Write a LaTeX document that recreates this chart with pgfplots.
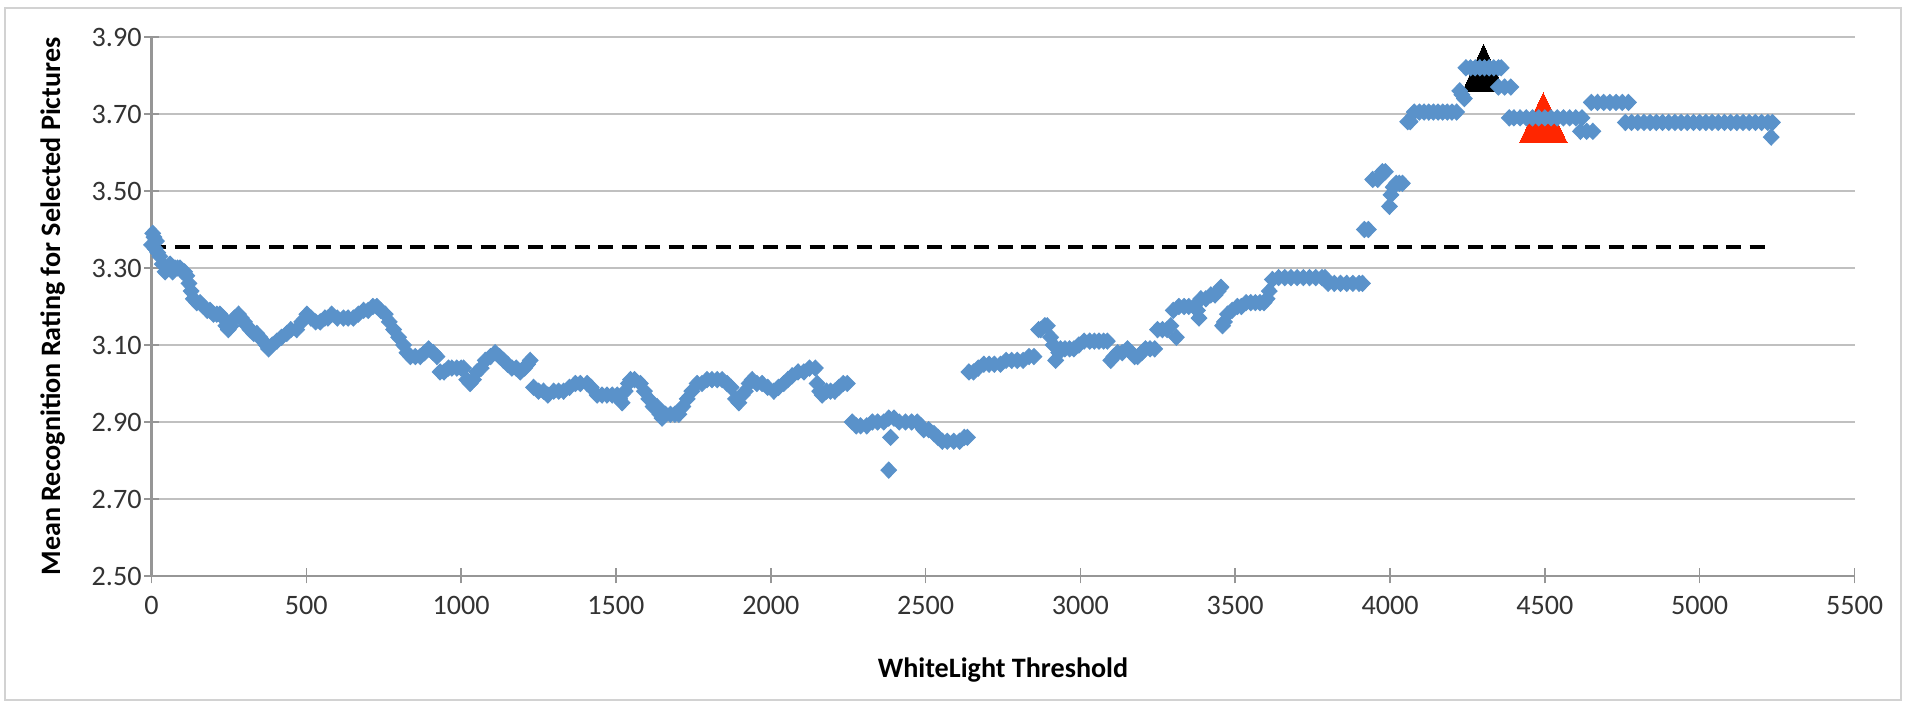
\documentclass[border=0pt]{standalone}
\usepackage{fontspec}
\setmainfont{Carlito}
\usepackage{pgfplots}
\pgfplotsset{compat=1.18}
\definecolor{ptblue}{RGB}{90,146,202}
\definecolor{gridgray}{RGB}{192,192,192}
\definecolor{axgray}{RGB}{150,150,150}
\definecolor{tri}{RGB}{255,38,0}
\definecolor{frame}{RGB}{210,210,210}
\begin{document}
\begin{tikzpicture}
\useasboundingbox (0,0) rectangle (19.16cm,7.02cm);
\draw[frame, line width=0.025cm] (0.05cm,0.02cm) rectangle (19.01cm,6.94cm);
\begin{axis}[
  at={(1.515cm,1.26cm)}, anchor=south west,
  scale only axis, width=17.03cm, height=5.39cm,
  xmin=0, xmax=5500, ymin=2.5, ymax=3.9,
  clip=false,
  axis x line=bottom, axis y line=left,
  axis line style={axgray, line width=0.02cm, -},
  xtick={0,500,1000,1500,2000,2500,3000,3500,4000,4500,5000,5500},
  ytick={2.5,2.7,2.9,3.1,3.3,3.5,3.7,3.9},
  tick align=center, major tick length=0.15cm,
  tick style={axgray, line width=0.015cm},
  ymajorgrids, grid style={gridgray, line width=0.02cm},
  /pgf/number format/assume math mode=true,
  xticklabel style={/pgf/number format/1000 sep={}, font=\fontsize{8}{9.6}\selectfont, text=black!80},
  yticklabel style={/pgf/number format/.cd, fixed, fixed zerofill, precision=2, /tikz/.cd, font=\fontsize{8}{9.6}\selectfont, text=black!80, xshift=0.1cm},
  xlabel={WhiteLight Threshold},
  ylabel={Mean Recognition Rating for Selected Pictures},
  xlabel style={at={(axis description cs:0.5,0)}, anchor=center, yshift=-0.94cm, font=\bfseries\fontsize{8}{9.6}\selectfont},
  ylabel style={at={(axis description cs:0,0.5)}, anchor=center, yshift=0.99cm, font=\bfseries\fontsize{8}{9.6}\selectfont},
]
% selected thresholds
\addplot[black, only marks, mark=triangle*, mark size=0.313cm, mark options={fill=black, draw=black, line width=0pt, xscale=0.77, yshift=-0.078cm}] coordinates {(4302,3.82)};
\addplot[tri, only marks, mark=triangle*, mark size=0.333cm, mark options={fill=tri, draw=tri, line width=0pt, xscale=0.83, yshift=-0.083cm}] coordinates {(4495,3.69)};
% mean rating of selected pictures
\addplot[ptblue, only marks, mark=diamond*, mark size=0.08cm, mark options={fill=ptblue, draw=ptblue, line width=0.01cm, xscale=1.3}] coordinates {
(0,3.36) (4,3.39) (8,3.38) (12,3.35) (16,3.37) (20,3.34) (27,3.33) (35,3.31) (44,3.29) (52,3.30) (60,3.31) (68,3.29) (76,3.30) (84,3.30) (92,3.30) (100,3.29) (107,3.29) (114,3.28) (121,3.26) (128,3.24) (135,3.22) (146,3.21) (157,3.21) (168,3.20) (180,3.19) (189,3.19) (200,3.18) (211,3.18) (221,3.18) (232,3.17) (240,3.15) (248,3.14) (258,3.15) (268,3.17) (281,3.18) (290,3.17) (300,3.16) (308,3.15) (318,3.14) (330,3.13) (340,3.13) (350,3.12) (360,3.11) (370,3.10) (378,3.09) (390,3.10) (405,3.11) (420,3.12) (437,3.13) (450,3.14) (469,3.14) (485,3.16) (502,3.18) (515,3.17) (530,3.16) (545,3.16) (560,3.17) (570,3.17) (582,3.18) (600,3.17) (620,3.17) (635,3.17) (652,3.17) (668,3.18) (685,3.19) (700,3.19) (715,3.20) (728,3.20) (740,3.19) (755,3.18) (768,3.16) (782,3.14) (798,3.12) (814,3.10) (825,3.08) (836,3.07) (852,3.07) (868,3.07) (882,3.08) (895,3.09) (910,3.08) (922,3.07)
(932,3.03) (945,3.03) (959,3.04) (970,3.04) (986,3.04) (1000,3.04) (1008,3.04) (1018,3.01) (1029,3.00) (1040,3.01) (1051,3.03) (1065,3.04) (1078,3.06) (1095,3.07) (1110,3.08) (1124,3.07) (1137,3.06) (1150,3.05) (1164,3.04) (1178,3.04) (1191,3.03) (1205,3.04) (1215,3.05) (1223,3.06)
(1234,2.99) (1250,2.98) (1266,2.98) (1280,2.97) (1299,2.98) (1315,2.98) (1331,2.98) (1350,2.99) (1369,3.00) (1385,3.00) (1407,3.00) (1420,2.99) (1439,2.97) (1455,2.97) (1471,2.97) (1488,2.97) (1504,2.97) (1512,2.96) (1520,2.95) (1530,2.98) (1540,3.00) (1547,3.01) (1560,3.01) (1579,3.00) (1592,2.98) (1606,2.96) (1620,2.94) (1633,2.94) (1642,2.92) (1649,2.91) (1660,2.92) (1676,2.92) (1690,2.92) (1703,2.92) (1716,2.94) (1730,2.96) (1745,2.98) (1762,3.00) (1778,3.00) (1794,3.01) (1810,3.01) (1827,3.01) (1843,3.01) (1859,3.00) (1872,2.99) (1886,2.96) (1897,2.95) (1908,2.97) (1918,2.98) (1930,3.00) (1940,3.01) (1955,3.00) (1972,3.00) (1990,2.99) (2010,2.98) (2025,2.99) (2042,3.00) (2055,3.01) (2069,3.02) (2088,3.03) (2107,3.03) (2125,3.04) (2144,3.04)
(2150,3.00) (2158,2.98) (2166,2.97) (2180,2.98) (2193,2.98) (2207,2.98) (2220,2.99) (2234,3.00) (2247,3.00)
(2263,2.90) (2276,2.89) (2290,2.89) (2310,2.89) (2328,2.90) (2345,2.90) (2365,2.90) (2381,2.91) (2387,2.86) (2381,2.775) (2398,2.91) (2415,2.90) (2435,2.90) (2455,2.90) (2473,2.90) (2485,2.89) (2494,2.88) (2510,2.88) (2527,2.87) (2540,2.86) (2554,2.85) (2570,2.85) (2591,2.85) (2610,2.85) (2625,2.86) (2635,2.86)
(2640,3.03) (2655,3.03) (2670,3.04) (2688,3.05) (2705,3.05) (2722,3.05) (2742,3.05) (2760,3.06) (2778,3.06) (2796,3.06) (2815,3.06) (2834,3.07) (2850,3.07)
(2865,3.14) (2872,3.14) (2885,3.15) (2893,3.15) (2904,3.12) (2912,3.10) (2920,3.06) (2930,3.08) (2936,3.09) (2950,3.09) (2965,3.09) (2979,3.09) (2995,3.10) (3012,3.11) (3030,3.11) (3045,3.11) (3060,3.11) (3075,3.11) (3087,3.11) (3098,3.06) (3108,3.07) (3120,3.08) (3135,3.08) (3152,3.09) (3165,3.08) (3175,3.07) (3185,3.07) (3198,3.08) (3210,3.09) (3225,3.09) (3240,3.09) (3249,3.14) (3265,3.14) (3280,3.14) (3292,3.15) (3300,3.19) (3310,3.12) (3318,3.20) (3335,3.20) (3350,3.20) (3367,3.20) (3378,3.19) (3383,3.17) (3389,3.22) (3405,3.22) (3421,3.23) (3435,3.23) (3445,3.24) (3454,3.25) (3459,3.15) (3465,3.16) (3475,3.18) (3490,3.19) (3507,3.20) (3520,3.20) (3535,3.21) (3550,3.21) (3565,3.21) (3580,3.21) (3593,3.21) (3603,3.22) (3610,3.24) (3620,3.27)
(3640,3.275) (3660,3.275) (3680,3.275) (3700,3.275) (3720,3.275) (3740,3.275) (3760,3.275) (3780,3.275) (3790,3.275) (3800,3.26) (3820,3.26) (3840,3.26) (3860,3.26) (3880,3.26) (3900,3.26) (3911,3.26)
(3917,3.40) (3930,3.40) (3944,3.53) (3960,3.53) (3975,3.55) (3985,3.55) (3998,3.46) (4003,3.49) (4010,3.51) (4020,3.52) (4030,3.52) (4040,3.52)
(4057,3.68) (4065,3.68) (4078,3.705) (4095,3.705) (4110,3.705) (4125,3.705) (4140,3.705) (4155,3.705) (4170,3.705) (4185,3.705) (4200,3.705) (4215,3.705)
(4225,3.76) (4232,3.75) (4240,3.74) (4245,3.82) (4260,3.82) (4275,3.82) (4290,3.82) (4305,3.82) (4320,3.82) (4335,3.82) (4350,3.82) (4359,3.82) (4350,3.77) (4370,3.77) (4390,3.77)
(4385,3.69) (4400,3.69) (4420,3.69) (4440,3.69) (4460,3.69) (4480,3.69) (4500,3.69) (4520,3.69) (4540,3.69) (4560,3.69) (4580,3.69) (4600,3.69) (4620,3.69)
(4615,3.655) (4635,3.655) (4655,3.655)
(4650,3.73) (4670,3.73) (4690,3.73) (4710,3.73) (4730,3.73) (4750,3.73) (4770,3.73)
(4760,3.678) (4780,3.678) (4800,3.678) (4820,3.678) (4840,3.678) (4860,3.678) (4880,3.678) (4900,3.678) (4920,3.678) (4940,3.678) (4960,3.678) (4980,3.678) (5000,3.678) (5020,3.678) (5040,3.678) (5060,3.678) (5080,3.678) (5100,3.678) (5120,3.678) (5140,3.678) (5160,3.678) (5180,3.678) (5200,3.678) (5220,3.678) (5235,3.678)
(5231,3.64)
};
% overall mean
\addplot[black, line width=0.045cm, dash pattern=on 0.15cm off 0.085cm] coordinates {(0,3.354) (5235,3.354)};
\end{axis}
\end{tikzpicture}
\end{document}
